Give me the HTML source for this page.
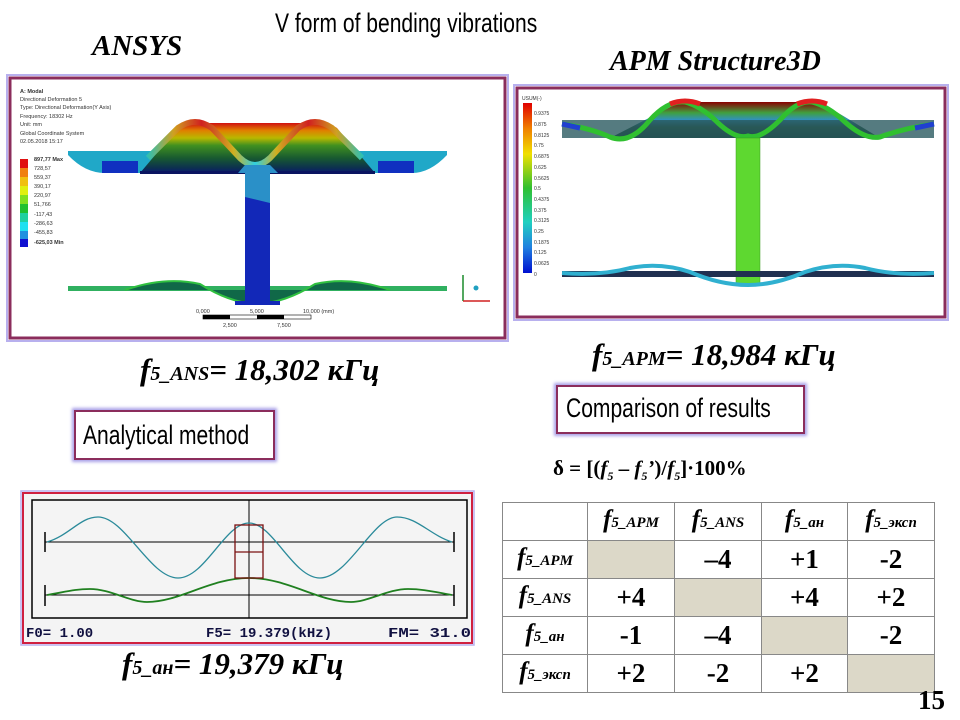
<!DOCTYPE html>
<html><head><meta charset="utf-8"><style>
body{margin:0;width:960px;height:720px;background:#fff;overflow:hidden;position:relative;font-family:"Liberation Serif",serif}
.a{position:absolute;white-space:nowrap}
.bi{font-weight:bold;font-style:italic}
.nar{font-family:"Liberation Sans",sans-serif;transform-origin:left top}
.box{position:absolute;border:2px solid #8b2d5c;box-shadow:0 0 3px 2px #a9a0e8;background:#fff}
td,th{border:1.5px solid #888;text-align:center;padding:0;height:35px;line-height:33px;font-weight:bold}
th{font-style:italic;font-size:25px;white-space:nowrap}
th small{font-size:15px}
.g{background:#dcd8c8}
</style></head><body>
<div class="a nar" style="left:275px;top:8px;font-size:27px;transform:scaleX(0.78)">V form of bending vibrations</div>
<div class="a bi" style="left:92px;top:30px;font-size:29px">ANSYS</div>
<div class="a bi" style="left:610px;top:46px;font-size:28px">APM Structure3D</div>

<svg class="a" style="left:0;top:0" width="960" height="720">
<defs>
<linearGradient id="ga" x1="0" y1="0" x2="0" y2="1">
<stop offset="0" stop-color="#d01010"/><stop offset=".15" stop-color="#e08000"/><stop offset=".3" stop-color="#b8b800"/><stop offset=".45" stop-color="#409020"/><stop offset=".7" stop-color="#185a30"/><stop offset=".9" stop-color="#0c3050"/><stop offset="1" stop-color="#0a1870"/></linearGradient>
<linearGradient id="gl" x1="0" y1="0" x2="0" y2="1">
<stop offset="0" stop-color="#e00000"/><stop offset=".15" stop-color="#f08000"/><stop offset=".3" stop-color="#f0e000"/><stop offset=".5" stop-color="#30c030"/><stop offset=".7" stop-color="#20d0c0"/><stop offset=".85" stop-color="#2080e0"/><stop offset="1" stop-color="#0010d0"/></linearGradient>
<linearGradient id="gp" x1="0" y1="0" x2="0" y2="1">
<stop offset="0" stop-color="#8a0000"/><stop offset=".3" stop-color="#40a040"/><stop offset=".5" stop-color="#3090c0"/><stop offset=".7" stop-color="#205030"/><stop offset="1" stop-color="#103020"/></linearGradient>
<linearGradient id="gw" x1="0" y1="0" x2="1" y2="0">
<stop offset="0" stop-color="#30c0b0"/><stop offset=".12" stop-color="#d0a020"/><stop offset=".25" stop-color="#d02020"/><stop offset=".4" stop-color="#d0b020"/><stop offset=".5" stop-color="#30d0e0"/><stop offset=".6" stop-color="#d0b020"/><stop offset=".75" stop-color="#d02020"/><stop offset=".88" stop-color="#d0a020"/><stop offset="1" stop-color="#30c0b0"/></linearGradient>
</defs>
<!-- ANSYS frame -->
<rect x="10" y="78" width="495" height="260" fill="#fff" stroke="#8b2d5c" stroke-width="3"/>
<rect x="7" y="75" width="501" height="266" fill="none" stroke="#b8b0ee" stroke-width="2"/>
<g font-family="Liberation Sans,sans-serif" font-size="5.5" fill="#333">
<text x="20" y="93" font-weight="bold">A: Modal</text><text x="20" y="101">Directional Deformation 5</text><text x="20" y="109">Type: Directional Deformation(Y Axis)</text><text x="20" y="118">Frequency: 18302 Hz</text><text x="20" y="126">Unit: mm</text><text x="20" y="135">Global Coordinate System</text><text x="20" y="143">02.05.2018 15:17</text>
<text x="34" y="161" font-weight="bold">897,77 Max</text><text x="34" y="170">728,57</text><text x="34" y="179">559,37</text><text x="34" y="188">390,17</text><text x="34" y="197">220,97</text><text x="34" y="206">51,766</text><text x="34" y="216">-117,43</text><text x="34" y="225">-286,63</text><text x="34" y="234">-455,83</text><text x="34" y="244" font-weight="bold">-625,03 Min</text>
<text x="196" y="313">0,000</text><text x="250" y="313">5,000</text><text x="303" y="313">10,000 (mm)</text><text x="223" y="327">2,500</text><text x="277" y="327">7,500</text>
</g>
<g>
<rect x="20" y="159" width="8" height="9" fill="#e01010"/><rect x="20" y="168" width="8" height="9" fill="#f08010"/><rect x="20" y="177" width="8" height="9" fill="#f0c010"/><rect x="20" y="186" width="8" height="9" fill="#e0f010"/><rect x="20" y="195" width="8" height="9" fill="#80e020"/><rect x="20" y="204" width="8" height="9" fill="#20c030"/><rect x="20" y="213" width="8" height="9" fill="#20d0a0"/><rect x="20" y="222" width="8" height="9" fill="#20e0f0"/><rect x="20" y="231" width="8" height="8" fill="#2090e0"/><rect x="20" y="239" width="8" height="8" fill="#1010d0"/>
</g>
<!-- top flange plate -->
<path d="M68,151 L447,151 L447,155 Q430,173 412,173 L105,173 Q85,173 68,155 Z" fill="#20a8c8"/>
<rect x="102" y="161" width="36" height="12" fill="#1030c0"/><rect x="378" y="161" width="36" height="12" fill="#1030c0"/>
<!-- bulge -->
<path d="M140,173 L178,128 Q185,123 195,123 L320,123 Q330,123 337,128 L375,173 Z" fill="url(#ga)"/>
<path d="M148,158 L178,128 Q195,116 212,128 L240,158 Q255,172 270,158 L298,128 Q315,116 332,128 L362,158" fill="none" stroke="url(#gw)" stroke-width="6"/>
<rect x="140" y="171" width="235" height="3" fill="#0a1460"/>
<!-- web -->
<rect x="245" y="173" width="25" height="131" fill="#1228b8"/>
<path d="M245,173 L270,173 L270,203 L245,197 Z" fill="#2a90c8"/>
<path d="M238,173 L245,165 L270,165 L278,173Z" fill="#2a90c8"/>
<!-- bottom flange -->
<path d="M68,286 L447,286 L447,291 L68,291Z" fill="#30b060"/>
<path d="M125,290 Q165,276 200,284 Q230,303 257,304 Q285,303 315,284 Q350,276 390,290 Z" fill="#106848"/>
<path d="M125,290 Q165,276 200,284 Q230,303 257,304 Q285,303 315,284 Q350,276 390,290" fill="none" stroke="#30c040" stroke-width="2"/>
<rect x="245" y="286" width="25" height="18" fill="#1228b8"/>
<rect x="235" y="301" width="45" height="4" fill="#1228b8"/>
<rect x="203" y="315" width="108" height="4" fill="#fff" stroke="#000" stroke-width=".6"/>
<rect x="203" y="315" width="27" height="4" fill="#000"/><rect x="257" y="315" width="27" height="4" fill="#000"/>
<line x1="463" y1="301" x2="463" y2="275" stroke="#1a8a2a" stroke-width="1.5"/><line x1="463" y1="301" x2="490" y2="301" stroke="#d02020" stroke-width="1.5"/><circle cx="476" cy="288" r="2.5" fill="#20a0c0"/>

<!-- APM frame -->
<rect x="517" y="88" width="428" height="229" fill="#fff" stroke="#8b2d5c" stroke-width="3"/>
<rect x="514" y="85" width="434" height="235" fill="none" stroke="#b8b0ee" stroke-width="2"/>
<rect x="523" y="103" width="9" height="170" fill="url(#gl)"/>
<g font-family="Liberation Sans,sans-serif" font-size="5" fill="#333">
<text x="522" y="100">USUM(-)</text>
<text x="534" y="115">0.9375</text><text x="534" y="126">0.875</text><text x="534" y="137">0.8125</text><text x="534" y="147">0.75</text><text x="534" y="158">0.6875</text><text x="534" y="169">0.625</text><text x="534" y="180">0.5625</text><text x="534" y="190">0.5</text><text x="534" y="201">0.4375</text><text x="534" y="212">0.375</text><text x="534" y="222">0.3125</text><text x="534" y="233">0.25</text><text x="534" y="244">0.1875</text><text x="534" y="254">0.125</text><text x="534" y="265">0.0625</text><text x="534" y="276">0</text>
</g>
<path d="M610,138 L680,102 L820,102 L880,138Z" fill="url(#gp)"/>
<rect x="562" y="120" width="372" height="18" fill="#2a5a60" opacity=".8"/>
<path d="M562,124 Q590,128 610,137 Q630,145 650,120 Q668,100 685,102 Q700,106 715,120 Q735,140 748,136 Q760,140 780,120 Q797,100 812,102 Q828,106 845,122 Q865,140 880,137 Q905,128 934,124" fill="none" stroke="#30c030" stroke-width="5"/>
<path d="M670,104 Q685,98 700,104 M797,104 Q812,98 827,104" fill="none" stroke="#e02020" stroke-width="5"/>
<path d="M562,124 L580,128 M915,128 L934,124" stroke="#2040d0" stroke-width="5"/>
<rect x="736" y="138" width="24" height="147" fill="#5ed830" stroke="#3a9a20" stroke-width=".5"/>
<rect x="562" y="271" width="372" height="6" fill="#203050"/>
<path d="M562,273 Q600,276 630,268 Q660,262 690,272 Q720,285 748,285 Q775,285 805,272 Q835,262 865,268 Q895,276 934,273" fill="none" stroke="#30b0d0" stroke-width="4"/>

<!-- graph -->
<rect x="23" y="493" width="449" height="150" fill="#f4f4f4" stroke="#d02040" stroke-width="2"/>
<rect x="21" y="491" width="453" height="154" fill="none" stroke="#b8b0ee" stroke-width="1.5"/>
<rect x="32" y="500" width="435" height="118" fill="#f4f4f4" stroke="#000" stroke-width="1.5"/>
<line x1="249" y1="500" x2="249" y2="618" stroke="#000"/>
<line x1="45" y1="542" x2="454" y2="542" stroke="#000"/><line x1="45" y1="595" x2="454" y2="595" stroke="#000"/>
<path d="M45,532V552M454,532V552M45,585V606M454,585V606" stroke="#000" stroke-width="1.5"/>
<path d="M47,542 C70,535 80,517 98,517 C125,517 150,578 178,578 C205,578 225,523 249,523 C273,523 293,578 320,578 C348,578 373,517 397,517 C417,517 430,535 452,542" fill="none" stroke="#2a8a9a" stroke-width="1.3"/>
<path d="M47,595 C65,592 75,589 90,589 C110,589 130,602 147,602 C180,602 210,578 249,578 C288,578 318,602 351,602 C368,602 388,589 408,589 C423,589 435,592 452,595" fill="none" stroke="#208020" stroke-width="1.8"/>
<rect x="235" y="525" width="28" height="53" fill="none" stroke="#7a1010" stroke-width="1.3"/><line x1="235" y1="552" x2="263" y2="552" stroke="#7a1010" stroke-width="1.3"/>
<g font-family="Liberation Mono,monospace" font-weight="bold" font-size="14" fill="#101040">
<text x="26" y="637">F0=  1.00</text><text x="206" y="637">F5= 19.379(kHz)</text><text x="388" y="637" textLength="83" lengthAdjust="spacingAndGlyphs">FM= 31.0</text>
</g>
</svg>

<div class="a bi" style="left:140px;top:352px;font-size:31px">f<span style="font-size:20px">5_ANS</span>= 18,302 кГц</div>
<div class="a bi" style="left:592px;top:337px;font-size:31px">f<span style="font-size:20px">5_APM</span>= 18,984 кГц</div>
<div class="a bi" style="left:122px;top:646px;font-size:31px">f<span style="font-size:20px">5_ан</span>= 19,379 кГц</div>

<div class="box" style="left:74px;top:410px;width:197px;height:46px"><div class="a nar" style="left:7px;top:8px;font-size:27px;transform:scaleX(.78)">Analytical method</div></div>
<div class="box" style="left:556px;top:385px;width:245px;height:45px"><div class="a nar" style="left:8px;top:6px;font-size:27px;transform:scaleX(.78)">Comparison of results</div></div>

<div class="a" style="left:553px;top:456px;font-size:21px;font-weight:bold">δ = [(<i>f<sub style="font-size:12px">5</sub></i> – <i>f<sub style="font-size:12px">5</sub>’</i>)/<i>f<sub style="font-size:12px">5</sub></i>]·100%</div>

<table class="a" style="left:502px;top:502px;border-collapse:collapse;font-size:27px;font-family:'Liberation Serif',serif">
<tr style="height:37px"><td style="width:84px"></td><th style="width:86px">f<small>5_APM</small></th><th style="width:86px">f<small>5_ANS</small></th><th style="width:85px">f<small>5_ан</small></th><th style="width:86px">f<small>5_эксп</small></th></tr>
<tr><th>f<small>5_APM</small></th><td class="g"></td><td>–4</td><td>+1</td><td>-2</td></tr>
<tr><th>f<small>5_ANS</small></th><td>+4</td><td class="g"></td><td>+4</td><td>+2</td></tr>
<tr><th>f<small>5_ан</small></th><td>-1</td><td>–4</td><td class="g"></td><td>-2</td></tr>
<tr><th>f<small>5_эксп</small></th><td>+2</td><td>-2</td><td>+2</td><td class="g"></td></tr>
</table>
<div class="a" style="left:918px;top:685px;font-size:27px;font-weight:bold">15</div>
</body></html>
